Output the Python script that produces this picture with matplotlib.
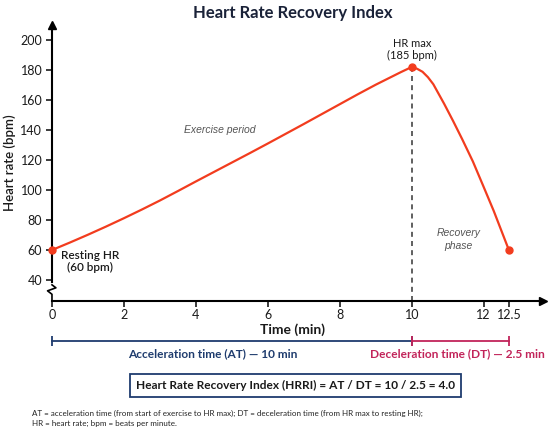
import numpy as np
import matplotlib
matplotlib.use("Agg")
import matplotlib.pyplot as plt
import matplotlib.transforms as mtransforms

plt.rcParams['font.family'] = ['Lato', 'DejaVu Sans']

# exercise phase (min, bpm)
ex_time = [0, 0.5, 1, 1.5, 2, 2.5, 3, 3.5, 4, 4.5, 5, 5.5, 6, 6.5, 7, 7.5, 8, 8.5, 9, 9.4, 9.7, 10]
ex_hr = [60, 65, 70.2, 75.6, 81.2, 87, 93, 99.3, 105.7, 112, 118.3, 124.6, 131, 137.5, 144,
         150.6, 157.2, 163.8, 170.2, 175, 178.6, 182]
# recovery phase
rec_time = [10, 10.05, 10.15, 10.3, 10.45, 10.6, 10.9, 11.15, 11.4, 11.7, 12.0, 12.2, 12.5]
rec_hr = [182, 181.7, 180.8, 178.8, 175.2, 170.5, 157.5, 146, 134, 119, 102, 86, 60]

x_ticks = [0, 2, 4, 6, 8, 10, 12, 12.5]
x_ticklabels = ['0', '2', '4', '6', '8', '10', '12', '12.5']
y_ticks = [40, 60, 80, 100, 120, 140, 160, 180, 200]

at_min = 10
dt_min = 2.5
hr_rest = 60
hr_max_label = 185

RED = '#f23c1e'
NAVY = '#1f3c6e'
CRIMSON = '#c2245a'
DARK = '#1a1a1a'


# the picture spreads the last half minute a bit wider than the rest of the axis
def fwd(x):
    x = np.asarray(x, dtype=float)
    return np.where(x <= 12, x, 12 + 1.4 * (x - 12))


def inv(x):
    x = np.asarray(x, dtype=float)
    return np.where(x <= 12, x, 12 + (x - 12) / 1.4)


fig = plt.figure(figsize=(5.5, 4.33), dpi=100)
ax = fig.add_axes([0.0945, 0.3048, 0.893, 0.6375])
ax.set_xscale('function', functions=(fwd, inv))

t_all = ex_time + rec_time[1:]
hr_all = ex_hr + rec_hr[1:]
ax.plot(t_all, hr_all, color=RED, lw=1.6, solid_capstyle='round', solid_joinstyle='round', zorder=3)
ax.plot([ex_time[0], ex_time[-1], rec_time[-1]], [ex_hr[0], ex_hr[-1], rec_hr[-1]],
        'o', color=RED, ms=5, zorder=4, clip_on=False)

# HR max dashed line
ax.plot([at_min, at_min], [26, ex_hr[-1]], color='#444444', lw=1.2, ls=(0, (3, 2.5)), zorder=2)

ax.set_xlim(0, 13.18)
ax.set_ylim(26, 210)
ax.set_xticks(x_ticks)
ax.set_xticklabels(x_ticklabels)
ax.set_xticks([], minor=True)
ax.set_yticks(y_ticks)
for s in ['top', 'right', 'left']:
    ax.spines[s].set_visible(False)
ax.spines['bottom'].set_linewidth(1.5)
ax.tick_params(axis='both', length=4, width=1.2, labelsize=9, colors=DARK, pad=3)
ax.tick_params(axis='x', pad=2)

# y axis drawn by hand, with a break
ytr = ax.get_yaxis_transform()
ax.plot([0, 0], [38.5, 210], color='black', lw=1.5, transform=ytr, clip_on=False)
ax.plot([0, 0, -0.009, 0.008, 0], [26, 30.5, 32.8, 34.8, 36.8], color='black', lw=1.2,
        transform=ytr, clip_on=False)
ax.plot(0, 1, '^', color='black', ms=6, transform=ax.transAxes, clip_on=False)
ax.plot(1, 0, '>', color='black', ms=6, transform=ax.transAxes, clip_on=False)

ax.set_ylabel('Heart rate (bpm)', fontsize=9.5, color=DARK, labelpad=3, fontweight='semibold')

# annotations
ax.text(at_min, 193.5, 'HR max\n(%d bpm)' % hr_max_label, ha='center', va='center',
        fontsize=8, color=DARK, linespacing=1.15)
ax.text(1.05, 52.5, 'Resting HR\n(%d bpm)' % hr_rest, ha='center', va='center',
        fontsize=8.5, color=DARK, fontweight='semibold', linespacing=1.15)
ax.text(4.65, 140, 'Exercise period', ha='center', va='center', fontsize=7.5,
        style='italic', color='#555555', family=['Liberation Sans', 'DejaVu Sans'])
ax.text(11.3, 67, 'Recovery\nphase', ha='center', va='center', fontsize=7.5,
        style='italic', color='#555555', family=['Liberation Sans', 'DejaVu Sans'],
        linespacing=1.4)

fig.text(0.532, 0.97, 'Heart Rate Recovery Index', ha='center', va='center',
         fontsize=12, fontweight='bold', color='#1a2238')
fig.text(0.532, 0.239, 'Time (min)', ha='center', va='center', fontsize=10,
         fontweight='bold', color=DARK)

# brackets for AT and DT
btr = mtransforms.blended_transform_factory(ax.transData, fig.transFigure)
ax.plot([0, at_min], [0.2125, 0.2125], color=NAVY, lw=1.3, transform=btr, clip_on=False)
ax.plot([0, at_min], [0.2125, 0.2125], '|', color=NAVY, ms=7, mew=1.3, transform=btr, clip_on=False)
ax.plot([at_min, at_min + dt_min], [0.2125, 0.2125], color=CRIMSON, lw=1.3, transform=btr, clip_on=False)
ax.plot([at_min, at_min + dt_min], [0.2125, 0.2125], '|', color=CRIMSON, ms=7, mew=1.3,
        transform=btr, clip_on=False)
ax.text(4.48, 0.1824, 'Acceleration time (AT) \u2014 %d min' % at_min, transform=btr,
        ha='center', va='center', fontsize=8.6, fontweight='bold', color=NAVY)
ax.text(11.26, 0.1824, 'Deceleration time (DT) \u2014 %g min' % dt_min, transform=btr,
        ha='center', va='center', fontsize=8.6, fontweight='bold', color=CRIMSON)

fig.text(0.538, 0.1097,
         'Heart Rate Recovery Index (HRRI) = AT / DT = %d / %g = %.1f' % (at_min, dt_min, at_min / dt_min),
         ha='center', va='center', fontsize=8.6, fontweight='bold', color=DARK,
         bbox=dict(boxstyle='square,pad=0.5', fc='white', ec=NAVY, lw=1.3))

fig.text(0.058, 0.0462,
         'AT = acceleration time (from start of exercise to HR max); DT = deceleration time '
         '(from HR max to resting HR);', ha='left', va='center', fontsize=5.8, color='#222222')
fig.text(0.058, 0.0231, 'HR = heart rate; bpm = beats per minute.', ha='left', va='center',
         fontsize=5.8, color='#222222')

fig.savefig('out.png', dpi=100, facecolor='white')
